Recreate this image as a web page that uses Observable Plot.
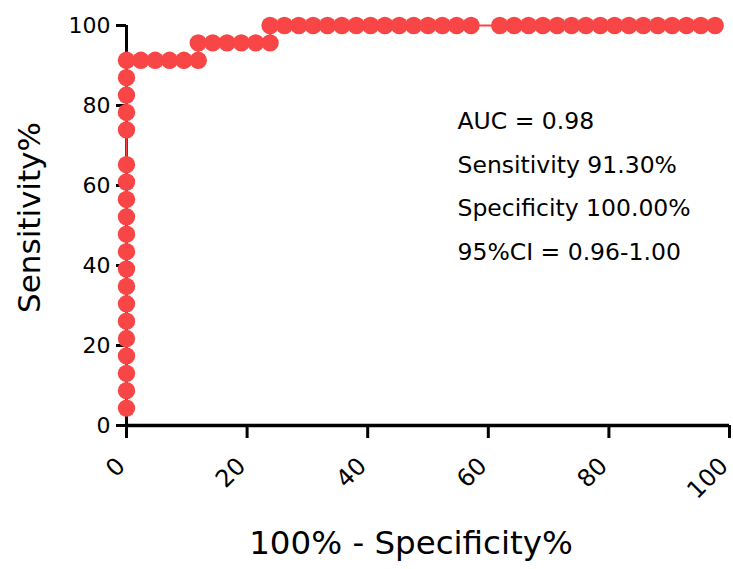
<!DOCTYPE html>
<html>
<head>
<meta charset="utf-8">
<script src="https://cdn.jsdelivr.net/npm/d3@7"></script>
<script src="https://cdn.jsdelivr.net/npm/@observablehq/plot@0.6"></script>
<style>
  html, body { margin: 0; padding: 0; background: #ffffff; }
  #chart svg { display: block; }
</style>
</head>
<body>
<div id="chart"></div>
<script>
// ROC curve points: 100% - Specificity% (x) and Sensitivity% (y), in drawing order
const fprValues = [
  0, 0, 0, 0, 0, 0, 0, 0, 0, 0, 0, 0, 0, 0, 0, 0, 0, 0, 0, 0,
  2.38, 4.76, 7.14, 9.52, 11.90,
  11.90, 14.29, 16.67, 19.05, 21.43, 23.81,
  23.81, 26.19, 28.57, 30.95, 33.33, 35.71, 38.10, 40.48, 42.86, 45.24,
  47.62, 50.00, 52.38, 54.76, 57.14, 61.90, 64.29, 66.67, 69.05, 71.43,
  73.81, 76.19, 78.57, 80.95, 83.33, 85.71, 88.10, 90.48, 92.86, 95.24, 97.62
];
const sensValues = [
  4.35, 8.70, 13.04, 17.39, 21.74, 26.09, 30.43, 34.78, 39.13, 43.48,
  47.83, 52.17, 56.52, 60.87, 65.22, 73.91, 78.26, 82.61, 86.96, 91.30,
  91.30, 91.30, 91.30, 91.30, 91.30,
  95.65, 95.65, 95.65, 95.65, 95.65, 95.65,
  100, 100, 100, 100, 100, 100, 100, 100, 100, 100,
  100, 100, 100, 100, 100, 100, 100, 100, 100, 100,
  100, 100, 100, 100, 100, 100, 100, 100, 100, 100, 100
];
const xTicks = [0, 20, 40, 60, 80, 100];
const yTicks = [0, 20, 40, 60, 80, 100];
const xTitle = "100% - Specificity%";
const yTitle = "Sensitivity%";
const annotationLines = [
  "AUC = 0.98",
  "Sensitivity 91.30%",
  "Specificity 100.00%",
  "95%CI = 0.96-1.00"
];

const points = fprValues.map((x, i) => ({x, y: sensValues[i]}));
const red = "#f84545";
const font = "DejaVu Sans, Verdana, sans-serif";

const chart = Plot.plot({
  width: 733,
  height: 569,
  marginLeft: 126,
  marginRight: 4,
  marginTop: 25,
  marginBottom: 144,
  x: {domain: [0, 100]},
  y: {domain: [0, 100]},
  style: {background: "#ffffff", fontFamily: font, color: "#000"},
  marks: [
    Plot.ruleY([0], {stroke: "#000", strokeWidth: 3.5}),
    Plot.ruleX([0], {stroke: "#000", strokeWidth: 3}),
    Plot.axisY({ticks: yTicks, tickSize: 10, tickPadding: 6, fontSize: 22, strokeWidth: 3, label: null, stroke: "#000", fill: "#000"}),
    Plot.axisX({ticks: xTicks, tickSize: 13, tickFormat: () => "", strokeWidth: 3, label: null, stroke: "#000"}),
    Plot.text(xTicks, {x: d => d, frameAnchor: "bottom", dy: 42, dx: 0, rotate: -45, textAnchor: "end", fontSize: 24, fill: "#000"}),
    Plot.line(points, {x: "x", y: "y", stroke: red, strokeWidth: 2.2}),
    Plot.dot(points, {x: "x", y: "y", r: 8.7, fill: red, stroke: "none"}),
    Plot.text([annotationLines.join("\n")], {frameAnchor: "top-left", dx: 331, dy: 155, textAnchor: "start", lineAnchor: "middle", lineHeight: 1.85, fontSize: 23.5, fill: "#000"}),
    Plot.text([xTitle], {frameAnchor: "bottom", dx: -17, dy: 128, fontSize: 32.5, fill: "#000"}),
    Plot.text([yTitle], {frameAnchor: "left", dx: -96, dy: -8, rotate: -90, textAnchor: "middle", fontSize: 31, fill: "#000"})
  ]
});
document.getElementById("chart").appendChild(chart);
</script>
</body>
</html>
